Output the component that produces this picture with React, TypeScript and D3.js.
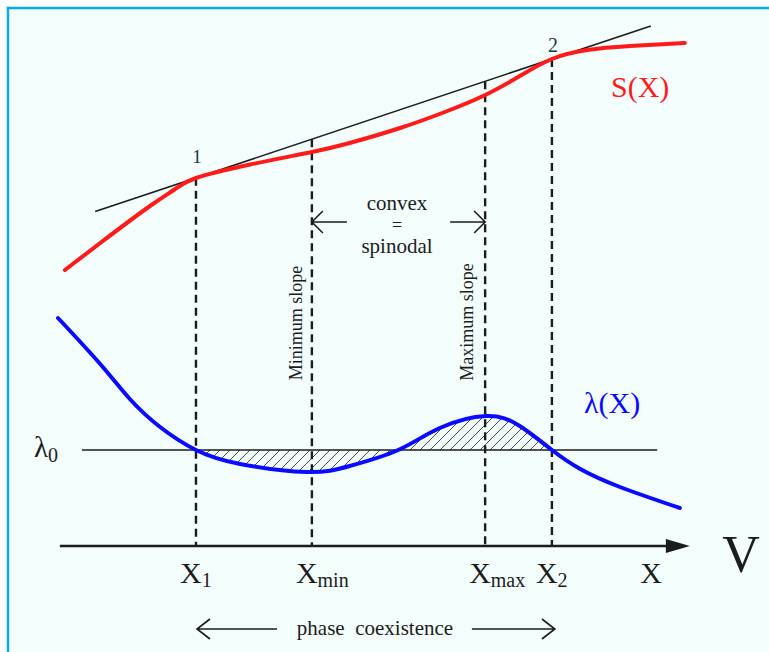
import React from 'react';
import * as d3 from 'd3';

const W = 769;
const H = 652;

// Entropy-like function S(X)
const sCurve = [
  { x: 0.11, y: 5.52 },
  { x: 0.67, y: 6.06 },
  { x: 1.46, y: 6.8 },
  { x: 1.86, y: 7.14 },
  { x: 2.19, y: 7.36 },
  { x: 3.05, y: 7.63 },
  { x: 4.03, y: 7.88 },
  { x: 4.63, y: 8.06 },
  { x: 5.43, y: 8.36 },
  { x: 6.14, y: 8.68 },
  { x: 6.78, y: 9.02 },
  { x: 7.33, y: 9.4 },
  { x: 7.84, y: 9.74 },
  { x: 8.4, y: 9.92 },
  { x: 9.08, y: 10.0 },
  { x: 9.95, y: 10.06 },
];

// Slope function λ(X)
const lambdaCurve = [
  { x: 0.0, y: 4.56 },
  { x: 0.67, y: 3.64 },
  { x: 1.14, y: 2.94 },
  { x: 1.62, y: 2.38 },
  { x: 2.19, y: 1.92 },
  { x: 2.89, y: 1.64 },
  { x: 3.95, y: 1.48 },
  { x: 4.63, y: 1.6 },
  { x: 5.4, y: 1.92 },
  { x: 6.06, y: 2.36 },
  { x: 6.8, y: 2.6 },
  { x: 7.33, y: 2.4 },
  { x: 7.84, y: 1.92 },
  { x: 8.29, y: 1.54 },
  { x: 8.92, y: 1.18 },
  { x: 9.87, y: 0.76 },
];

const lambda0 = 1.92;
const lambda0Extent = [0.38, 9.51];

// Common tangent touching S at points 1 and 2
const tangent = [
  { x: 0.59, y: 6.69 },
  { x: 9.41, y: 10.4 },
];

const markerNames = ['X1', 'Xmin', 'Xmax', 'X2'];
const markerX = [2.19, 4.03, 6.78, 7.84];
const markerSub = ['1', 'min', 'max', '2'];
const touchLabels = ['1', '2'];
const axisExtent = [0.03, 10.03];

const serif = '"Liberation Serif", "Times New Roman", serif';
const ink = '#1c1c1c';

export default function App() {
  const x = d3.scaleLinear().domain([0, 10]).range([58, 688]);
  const y = d3.scaleLinear().domain([0, 10]).range([546, 46]);

  const line = d3
    .line<{ x: number; y: number }>()
    .x((d) => x(d.x))
    .y((d) => y(d.y))
    .curve(d3.curveNatural);

  const hatchArea = d3
    .area<{ x: number; y: number }>()
    .x((d) => x(d.x))
    .y0(y(lambda0))
    .y1((d) => y(d.y))
    .curve(d3.curveNatural);

  const tanY = d3
    .scaleLinear()
    .domain([tangent[0].x, tangent[1].x])
    .range([tangent[0].y, tangent[1].y]);

  const [x1, xmin, xmax, x2] = markerX.map((v) => x(v));
  const axisY = y(0);

  const arrow = (tail: number, tip: number, yy: number, head: number, half: number) => {
    const dir = Math.sign(tip - tail);
    return `M${tail},${yy}L${tip},${yy}M${tip - dir * head},${yy - half}L${tip},${yy}L${tip - dir * head},${yy + half}`;
  };

  return (
    <svg
      width={W}
      height={H}
      viewBox={`0 0 ${W} ${H}`}
      style={{ position: 'absolute', left: 0, top: 0, background: '#ffffff' }}
    >
      <defs>
        <pattern id="hatch" width={10} height={10} patternUnits="userSpaceOnUse">
          <path d="M0,10L10,0M-2,2L2,-2M8,12L12,8" stroke="#333" strokeWidth={0.9} />
        </pattern>
        <clipPath id="coexist">
          <rect x={x1} y={0} width={x2 - x1} height={H} />
        </clipPath>
      </defs>

      {/* frame */}
      <rect x={8} y={8} width={W} height={H} fill="#f3fdfb" />
      <line x1={6.8} y1={8} x2={W} y2={8} stroke="#00adee" strokeWidth={2.4} />
      <line x1={8} y1={6.8} x2={8} y2={H} stroke="#00adee" strokeWidth={2.4} />

      {/* hatched areas between λ(X) and λ0 */}
      <path d={hatchArea(lambdaCurve) ?? ''} fill="url(#hatch)" clipPath="url(#coexist)" />

      {/* λ0 level */}
      <line
        x1={x(lambda0Extent[0])}
        x2={x(lambda0Extent[1])}
        y1={y(lambda0)}
        y2={y(lambda0)}
        stroke={ink}
        strokeWidth={1.7}
      />

      {/* vertical dashed construction lines */}
      {markerX.map((m, i) => (
        <line
          key={markerNames[i]}
          x1={x(m)}
          x2={x(m)}
          y1={y(tanY(m))}
          y2={axisY}
          stroke={ink}
          strokeWidth={2.4}
          strokeDasharray="8,5"
        />
      ))}

      {/* tangent line */}
      <line
        x1={x(tangent[0].x)}
        y1={y(tangent[0].y)}
        x2={x(tangent[1].x)}
        y2={y(tangent[1].y)}
        stroke={ink}
        strokeWidth={1.6}
      />

      {/* curves */}
      <path d={line(sCurve) ?? ''} fill="none" stroke="#ff1a1a" strokeWidth={4} strokeLinecap="round" />
      <path d={line(lambdaCurve) ?? ''} fill="none" stroke="#0a0aff" strokeWidth={4} strokeLinecap="round" />

      {/* horizontal axis with arrow */}
      <line x1={x(axisExtent[0])} x2={x(axisExtent[1]) - 20} y1={axisY} y2={axisY} stroke={ink} strokeWidth={2.6} />
      <path
        d={`M${x(axisExtent[1])},${axisY}L${x(axisExtent[1]) - 24},${axisY - 7}L${x(axisExtent[1]) - 24},${axisY + 7}Z`}
        fill={ink}
      />

      {/* tangent points */}
      <text x={x1 + 1} y={163} fontFamily={serif} fontSize={19} fill="#26324a" textAnchor="middle">
        {touchLabels[0]}
      </text>
      <text x={x2 + 1} y={52} fontFamily={serif} fontSize={20} fill="#26324a" textAnchor="middle">
        {touchLabels[1]}
      </text>

      {/* curve labels */}
      <text x={611} y={97} fontFamily={serif} fontSize={30} fill="#ff1a1a">
        S(X)
      </text>
      <text x={584} y={413} fontFamily={serif} fontSize={30} fill="#0a0aff">
        λ(X)
      </text>
      <text x={34} y={457} fontFamily={serif} fontSize={29} fill={ink}>
        λ
        <tspan fontSize={20} dy={5}>
          0
        </tspan>
      </text>

      {/* convex = spinodal */}
      <g fontFamily={serif} fill={ink} textAnchor="middle">
        <text x={397} y={209.9} fontSize={21}>
          convex
        </text>
        <text x={397} y={230.5} fontSize={18}>
          =
        </text>
        <text x={397} y={253.2} fontSize={21}>
          spinodal
        </text>
      </g>
      <path d={arrow(xmin + 35, xmin, 222, 11, 11)} fill="none" stroke={ink} strokeWidth={1.6} />
      <path d={arrow(xmax - 35, xmax, 222, 11, 11)} fill="none" stroke={ink} strokeWidth={1.6} />

      {/* slope annotations */}
      <text
        transform={`translate(${xmin - 10},323) rotate(-90)`}
        fontFamily={serif}
        fontSize={18}
        fill={ink}
        textAnchor="middle"
      >
        Minimum slope
      </text>
      <text
        transform={`translate(${xmax - 12},322) rotate(-90)`}
        fontFamily={serif}
        fontSize={18}
        fill={ink}
        textAnchor="middle"
      >
        Maximum slope
      </text>

      {/* axis labels */}
      {markerX.map((m, i) => (
        <text key={markerNames[i]} x={x(m) - 16} y={583} fontFamily={serif} fontSize={30} fill={ink}>
          X
          <tspan fontSize={20} dy={4}>
            {markerSub[i]}
          </tspan>
        </text>
      ))}
      <text x={651} y={583} fontFamily={serif} fontSize={30} fill={ink} textAnchor="middle">
        X
      </text>
      <text x={741} y={572} fontFamily={serif} fontSize={52} fill={ink} textAnchor="middle">
        V
      </text>

      {/* phase coexistence */}
      <text x={375} y={635} fontFamily={serif} fontSize={21} fill={ink} textAnchor="middle" xmlSpace="preserve">
        phase  coexistence
      </text>
      <path d={arrow(x1 + 81, x1 + 1, 629, 13, 10)} fill="none" stroke={ink} strokeWidth={1.6} />
      <path d={arrow(x2 - 80, x2 + 3, 629, 13, 10)} fill="none" stroke={ink} strokeWidth={1.6} />
    </svg>
  );
}
